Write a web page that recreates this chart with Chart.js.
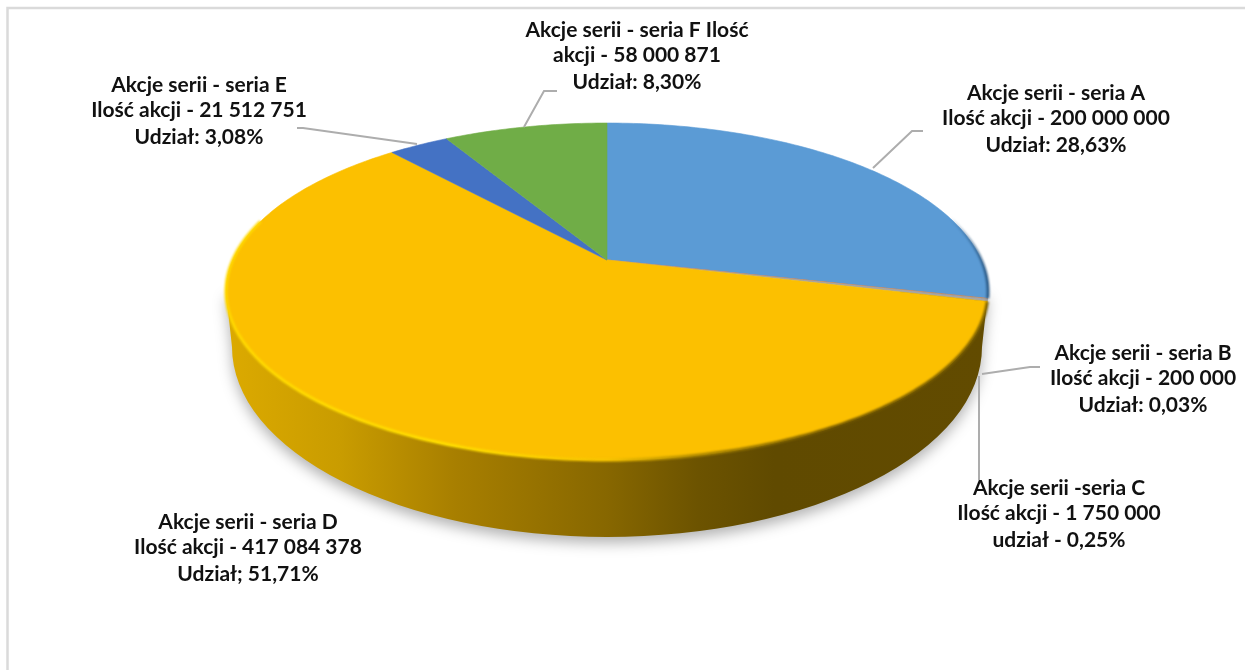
<!DOCTYPE html>
<html lang="pl">
<head>
<meta charset="utf-8">
<style>
  html, body { margin: 0; background: #fff; }
  #wrap { position: relative; width: 1245px; height: 670px; overflow: hidden; }
  #myChart { position: absolute; left: 0; top: 0; }
</style>
</head>
<body>
<div id="wrap"><canvas id="myChart" width="1245" height="670"></canvas></div>
<script src="https://cdn.jsdelivr.net/npm/chart.js@4"></script>
<script>
// liczba akcji w seriach
const series = ['seria A', 'seria B', 'seria C', 'seria D', 'seria E', 'seria F'];
const shares = [200000000, 200000, 1750000, 417084378, 21512751, 58000871];
const colors = ['#5b9bd5', '#ed7d31', '#a5a5a5', '#fcc000', '#4472c4', '#70ad47'];

const labelLines = [
  ['Akcje serii - seria A', 'Ilość akcji - 200 000 000', 'Udział: 28,63%'],
  ['Akcje serii - seria B', 'Ilość akcji - 200 000', 'Udział: 0,03%'],
  ['Akcje serii -seria C', 'Ilość akcji - 1 750 000', 'udział - 0,25%'],
  ['Akcje serii - seria D', 'Ilość akcji - 417 084 378', 'Udział; 51,71%'],
  ['Akcje serii - seria E', 'Ilość akcji - 21 512 751', 'Udział: 3,08%'],
  ['Akcje serii - seria F Ilość', 'akcji - 58 000 871', 'Udział: 8,30%'],
];

// layout: środek etykiety i wysokość wierszy
const labelPos = [[1056, 93], [1143, 353], [1059, 488], [248, 522], [199, 85], [637, 30]];
const lineOffsets = [0, 25, 52];
const leaders = [
  [[873, 168], [912, 131], [923, 131]],
  [[982, 374], [1030, 367], [1040, 367]],
  [[979, 376], [979, 480]],
  [],
  [[417, 144], [303, 128], [297, 128]],
  [[524, 127], [544, 91], [557, 91]],
];

// rzut perspektywiczny koła na powierzchnię "3D"
const view = { cx: 607, cy: 260, rx: 374.3, ry: 162.6, k: 0.187 };
function project(angle) {
  const u = Math.cos(angle), v = Math.sin(angle);
  const w = 1 - view.k * v;
  return [view.cx + view.rx * u / w, view.cy + view.ry * v / w];
}
function traceEdge(ctx, from, to) {
  const steps = Math.max(2, Math.ceil(Math.abs(to - from) * 60));
  for (let i = 0; i <= steps; i++) {
    const p = project(from + (to - from) * i / steps);
    ctx.lineTo(p[0], p[1]);
  }
}

// ArcElement rysuje się na spłaszczonej tarczy
Chart.ArcElement.prototype.draw = function (ctx) {
  const { startAngle, endAngle } = this.getProps(['startAngle', 'endAngle']);
  ctx.save();
  ctx.fillStyle = this.options.backgroundColor;
  ctx.strokeStyle = this.options.backgroundColor;
  ctx.lineWidth = 0.6;
  ctx.beginPath();
  ctx.moveTo(view.cx, view.cy);
  traceEdge(ctx, startAngle, endAngle);
  ctx.closePath();
  ctx.fill();
  ctx.stroke();
  ctx.restore();
};

function linearX(ctx, x0, x1, stops) {
  const g = ctx.createLinearGradient(x0, 0, x1, 0);
  stops.forEach(s => g.addColorStop(s[0], s[1]));
  return g;
}

const pie3d = {
  id: 'pie3d',
  beforeDatasetsDraw(chart) {
    const ctx = chart.ctx;
    // bok tarczy
    ctx.save();
    ctx.shadowColor = 'rgba(0,0,0,0.3)';
    ctx.shadowBlur = 14;
    ctx.shadowOffsetY = 6;
    ctx.fillStyle = linearX(ctx, 226, 988, [
      [0, '#dcaa00'], [0.15, '#c99c00'], [0.3, '#a87f00'], [0.5, '#876700'],
      [0.62, '#6c5300'], [0.72, '#604a00'], [1, '#624b00'],
    ]);
    ctx.beginPath();
    ctx.moveTo(988, 292);
    ctx.lineTo(982, 347);
    ctx.ellipse(607, 347, 375, 190, 0, 0, Math.PI);
    ctx.lineTo(226, 292);
    ctx.closePath();
    ctx.fill();
    ctx.restore();
  },
  afterDatasetsDraw(chart) {
    const ctx = chart.ctx;
    const arcs = chart.getDatasetMeta(0).data;

    // jasna krawędź serii D i ciemna krawędź serii A
    ctx.save();
    ctx.lineWidth = 3;
    ctx.filter = 'blur(0.8px)';
    ctx.strokeStyle = linearX(ctx, 226, 988, [
      [0, '#ffd800'], [0.3, '#ffdf00'], [0.5, '#f7c400'], [0.62, '#a88400'], [0.8, '#6c5300'], [1, '#7a5f00'],
    ]);
    ctx.beginPath();
    traceEdge(ctx, arcs[3].startAngle, Math.PI * 1.08);
    ctx.stroke();
    ctx.strokeStyle = linearX(ctx, 950, 988, [[0, 'rgba(44,90,133,0)'], [1, '#2c5a85']]);
    ctx.beginPath();
    traceEdge(ctx, -0.35, arcs[0].endAngle);
    ctx.stroke();
    ctx.restore();

    // linie odniesienia
    ctx.save();
    ctx.strokeStyle = '#adadad';
    ctx.lineWidth = 2;
    leaders.forEach(pts => {
      ctx.beginPath();
      pts.forEach(p => ctx.lineTo(p[0], p[1]));
      ctx.stroke();
    });
    ctx.restore();

    // etykiety
    ctx.save();
    ctx.fillStyle = '#111';
    ctx.font = 'bold 21px Lato';
    ctx.textAlign = 'center';
    ctx.textBaseline = 'middle';
    labelLines.forEach((lines, i) => {
      lines.forEach((t, j) => ctx.fillText(t, labelPos[i][0], labelPos[i][1] + lineOffsets[j]));
    });
    ctx.restore();

    // ramka
    ctx.save();
    ctx.strokeStyle = '#dadada';
    ctx.lineWidth = 2.5;
    ctx.beginPath();
    ctx.moveTo(7.5, 670);
    ctx.lineTo(7.5, 8);
    ctx.lineTo(1245, 8);
    ctx.stroke();
    ctx.restore();
  },
};

const myChart = new Chart(document.getElementById('myChart'), {
  type: 'pie',
  data: {
    labels: series,
    datasets: [{ data: shares, backgroundColor: colors, borderWidth: 0 }],
  },
  options: {
    responsive: false,
    animation: false,
    plugins: {
      legend: { display: false },
      tooltip: { enabled: false },
    },
  },
  plugins: [pie3d],
});
</script>
</body>
</html>
